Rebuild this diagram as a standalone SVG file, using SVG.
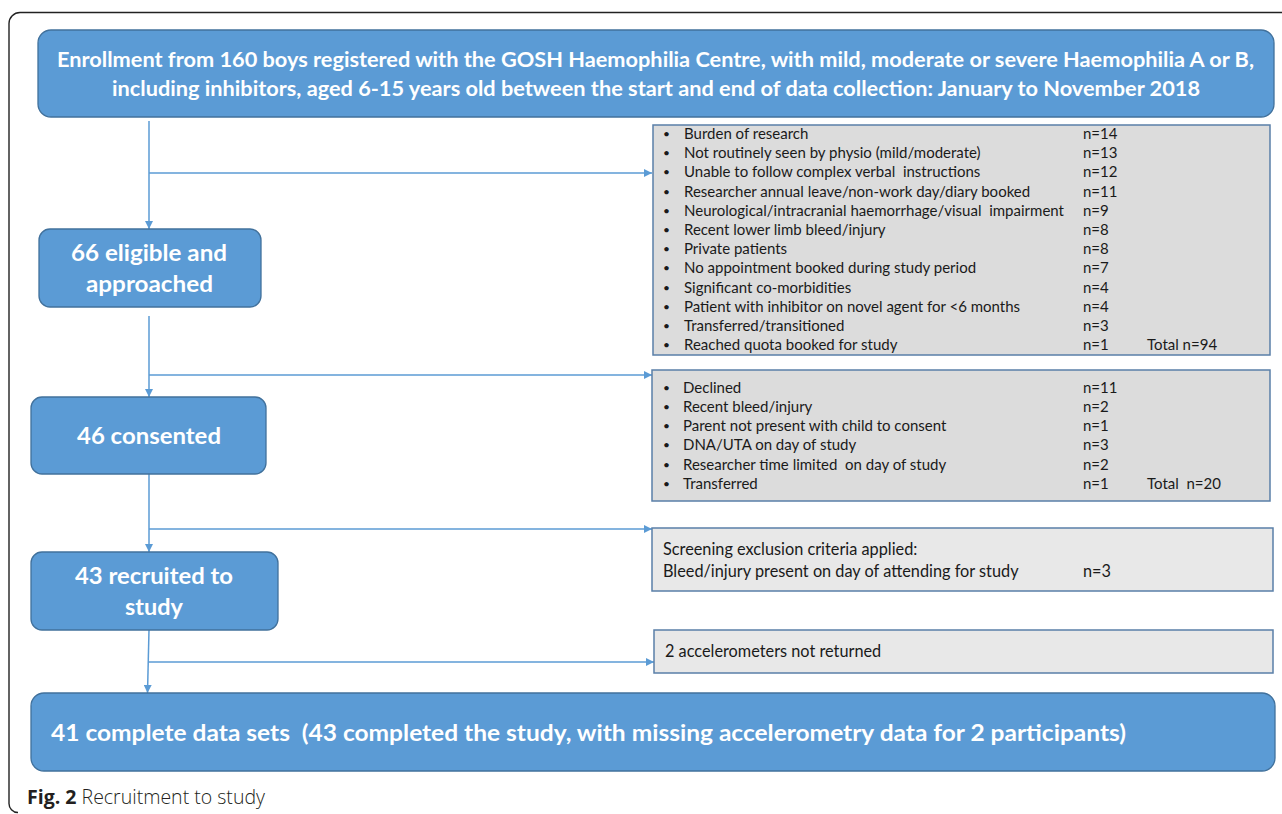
<svg xmlns="http://www.w3.org/2000/svg" width="1282" height="814" viewBox="0 0 1282 814">
  <defs>
    <marker id="arrow" viewBox="0 0 10 10" refX="10" refY="5" markerWidth="8" markerHeight="8" markerUnits="userSpaceOnUse" orient="auto">
      <path d="M0,0 L10,5 L0,10 Z" fill="#5B9BD5"/>
    </marker>
    <style>
      .stage { fill: #5B9BD5; stroke: #41719C; stroke-width: 1.3; }
      .stage-text { fill: #FFFFFF; font-family: Lato, "Open Sans", "Liberation Sans", sans-serif; font-weight: bold; }
      .big { font-size: 23px; }
      .head { font-size: 21px; }
      .excl-dark { fill: #DCDCDC; stroke: #5A7FA8; stroke-width: 1.5; }
      .excl-light { fill: #E8E8E8; stroke: #5A7FA8; stroke-width: 1.5; }
      .item { fill: #1A1A1A; font-family: Lato, "Open Sans", "Liberation Sans", sans-serif; font-size: 15px; }
      .note { fill: #1A1A1A; font-family: Lato, "Open Sans", "Liberation Sans", sans-serif; font-size: 16.3px; }
      .dot { font-size: 12px; }
      .link { fill: none; stroke: #5B9BD5; stroke-width: 1.5; marker-end: url(#arrow); }
      .frame { fill: none; stroke: #222222; stroke-width: 1.4; }
      .caption { fill: #231F20; font-family: "Open Sans", Lato, "Liberation Sans", sans-serif; font-size: 19.5px; font-weight: 300; }
    </style>
  </defs>

  <!-- figure frame -->
  <path class="frame" d="M1282,12.5 H20 A11,11 0 0 0 9,23.5 V803 A9,9 0 0 0 18,812.5"/>

  <!-- connectors -->
  <g id="connectors">
    <path class="link" d="M149,121 V229"/>
    <path class="link" d="M149,173 H652"/>
    <path class="link" d="M149,316 V397"/>
    <path class="link" d="M149,375 H652"/>
    <path class="link" d="M149,474 V552"/>
    <path class="link" d="M149,529 H652"/>
    <path class="link" d="M149,630 L147.5,693"/>
    <path class="link" d="M148,662 H654"/>
  </g>

  <!-- enrollment -->
  <g id="enrollment">
    <rect class="stage" x="38" y="30" width="1236" height="87" rx="13"/>
    <text class="stage-text head" x="57" y="67" textLength="1197" lengthAdjust="spacingAndGlyphs">Enrollment from 160 boys registered with the GOSH Haemophilia Centre, with mild, moderate or severe Haemophilia A or B,</text>
    <text class="stage-text head" x="112" y="96" textLength="1088" lengthAdjust="spacingAndGlyphs">including inhibitors, aged 6-15 years old between the start and end of data collection: January to November 2018</text>
  </g>

  <!-- eligible and approached -->
  <g id="eligible">
    <rect class="stage" x="39" y="229" width="222" height="78" rx="11"/>
    <text class="stage-text big" x="71" y="261" textLength="156" lengthAdjust="spacingAndGlyphs">66 eligible and</text>
    <text class="stage-text big" x="86" y="292" textLength="127" lengthAdjust="spacingAndGlyphs">approached</text>
  </g>

  <!-- consented -->
  <g id="consented">
    <rect class="stage" x="31" y="397" width="235" height="77" rx="11"/>
    <text class="stage-text big" x="77" y="444" textLength="144" lengthAdjust="spacingAndGlyphs">46 consented</text>
  </g>

  <!-- recruited -->
  <g id="recruited">
    <rect class="stage" x="31" y="552" width="247" height="78" rx="11"/>
    <text class="stage-text big" x="75" y="584" textLength="158" lengthAdjust="spacingAndGlyphs">43 recruited to</text>
    <text class="stage-text big" x="125" y="615" textLength="58" lengthAdjust="spacingAndGlyphs">study</text>
  </g>

  <!-- complete data sets -->
  <g id="complete">
    <rect class="stage" x="31" y="693" width="1244" height="78" rx="13"/>
    <text class="stage-text big" x="51" y="741" xml:space="preserve" textLength="1075" lengthAdjust="spacingAndGlyphs">41 complete data sets  (43 completed the study, with missing accelerometry data for 2 participants)</text>
  </g>

  <!-- not eligible / not approached -->
  <g id="excluded-approach">
    <rect class="excl-dark" x="653" y="125" width="617" height="230"/>
    <g class="item">
      <text class="dot" x="663" y="138">•</text><text x="684" y="139">Burden of research</text><text x="1083" y="139">n=14</text>
      <text class="dot" x="663" y="157">•</text><text x="684" y="158">Not routinely seen by physio (mild/moderate)</text><text x="1083" y="158">n=13</text>
      <text class="dot" x="663" y="176">•</text><text x="684" y="177" xml:space="preserve">Unable to follow complex verbal  instructions</text><text x="1083" y="177">n=12</text>
      <text class="dot" x="663" y="196">•</text><text x="684" y="197">Researcher annual leave/non-work day/diary booked</text><text x="1083" y="197">n=11</text>
      <text class="dot" x="663" y="215">•</text><text x="684" y="216" xml:space="preserve" textLength="380" lengthAdjust="spacingAndGlyphs">Neurological/intracranial haemorrhage/visual  impairment</text><text x="1083" y="216">n=9</text>
      <text class="dot" x="663" y="234">•</text><text x="684" y="235">Recent lower limb bleed/injury</text><text x="1083" y="235">n=8</text>
      <text class="dot" x="663" y="253">•</text><text x="684" y="254">Private patients</text><text x="1083" y="254">n=8</text>
      <text class="dot" x="663" y="272">•</text><text x="684" y="273">No appointment booked during study period</text><text x="1083" y="273">n=7</text>
      <text class="dot" x="663" y="292">•</text><text x="684" y="293">Significant co-morbidities</text><text x="1083" y="293">n=4</text>
      <text class="dot" x="663" y="311">•</text><text x="684" y="312">Patient with inhibitor on novel agent for &lt;6 months</text><text x="1083" y="312">n=4</text>
      <text class="dot" x="663" y="330">•</text><text x="684" y="331">Transferred/transitioned</text><text x="1083" y="331">n=3</text>
      <text class="dot" x="663" y="349">•</text><text x="684" y="350">Reached quota booked for study</text><text x="1083" y="350">n=1</text><text x="1147" y="350">Total n=94</text>
    </g>
  </g>

  <!-- not consented -->
  <g id="excluded-consent">
    <rect class="excl-dark" x="652" y="370" width="618" height="131"/>
    <g class="item">
      <text class="dot" x="663" y="392">•</text><text x="683" y="393">Declined</text><text x="1083" y="393">n=11</text>
      <text class="dot" x="663" y="411">•</text><text x="683" y="412">Recent bleed/injury</text><text x="1083" y="412">n=2</text>
      <text class="dot" x="663" y="430">•</text><text x="683" y="431">Parent not present with child to consent</text><text x="1083" y="431">n=1</text>
      <text class="dot" x="663" y="449">•</text><text x="683" y="450">DNA/UTA on day of study</text><text x="1083" y="450">n=3</text>
      <text class="dot" x="663" y="469">•</text><text x="683" y="470" xml:space="preserve">Researcher time limited  on day of study</text><text x="1083" y="470">n=2</text>
      <text class="dot" x="663" y="488">•</text><text x="683" y="489">Transferred</text><text x="1083" y="489">n=1</text><text x="1147" y="489" xml:space="preserve">Total  n=20</text>
    </g>
  </g>

  <!-- screening exclusion -->
  <g id="excluded-screening">
    <rect class="excl-light" x="652" y="528" width="621" height="63"/>
    <g class="note">
      <text x="663" y="555">Screening exclusion criteria applied:</text>
      <text x="663" y="577">Bleed/injury present on day of attending for study</text><text x="1083" y="577">n=3</text>
    </g>
  </g>

  <!-- missing accelerometers -->
  <g id="missing-data">
    <rect class="excl-light" x="654" y="630" width="619" height="43"/>
    <text class="note" x="665" y="657">2 accelerometers not returned</text>
  </g>

  <!-- caption -->
  <text class="caption" x="27" y="804" textLength="238" lengthAdjust="spacingAndGlyphs"><tspan font-weight="bold">Fig. 2</tspan> Recruitment to study</text>
</svg>
